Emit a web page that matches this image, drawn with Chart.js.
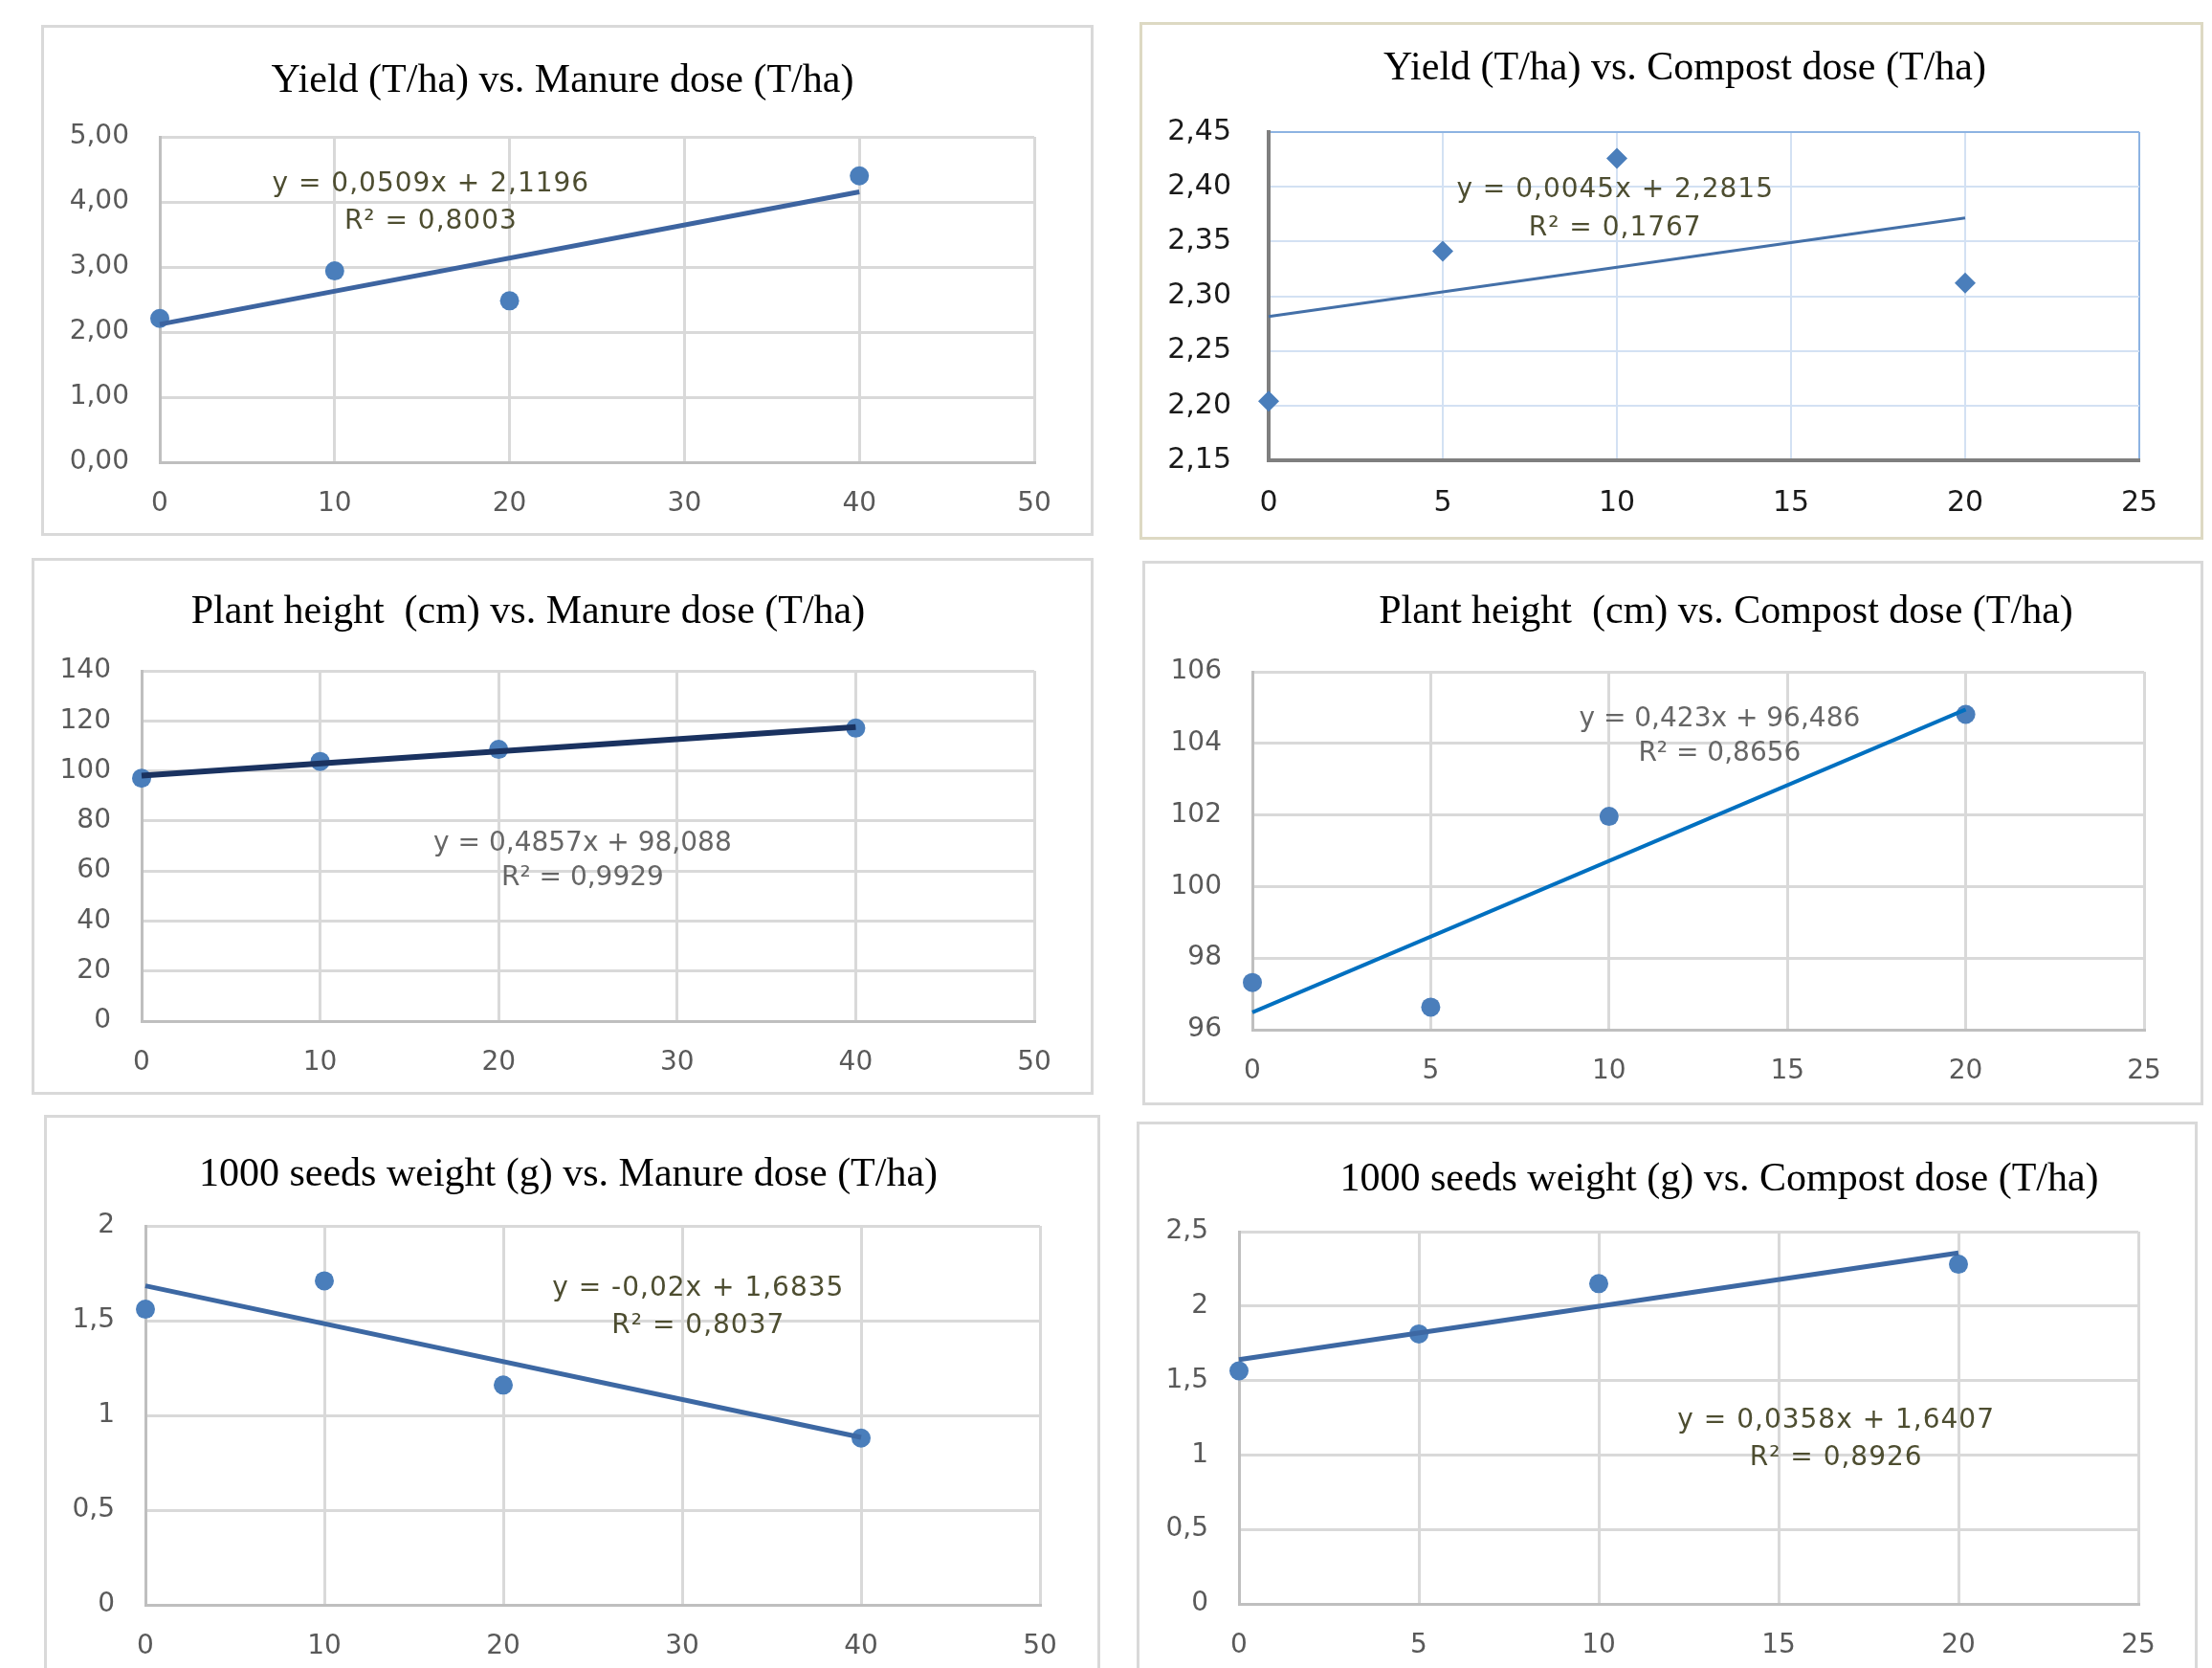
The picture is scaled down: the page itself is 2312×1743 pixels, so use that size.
<!DOCTYPE html>
<html>
<head>
<meta charset="utf-8">
<script src="https://cdn.jsdelivr.net/npm/chart.js@4.4.1/dist/chart.umd.min.js"></script>
<style>
  html, body { margin: 0; padding: 0; background: #fff; }
  body { position: relative; width: 2312px; height: 1743px; overflow: hidden; }
  .panel { position: absolute; }
  .panel .frame { position: absolute; inset: 0; border: 3px solid #d9d9d9; pointer-events: none; }
</style>
</head>
<body>
<div class="panel" id="p1"><canvas></canvas><div class="frame"></div></div>
<div class="panel" id="p2"><canvas></canvas><div class="frame"></div></div>
<div class="panel" id="p3"><canvas></canvas><div class="frame"></div></div>
<div class="panel" id="p4"><canvas></canvas><div class="frame"></div></div>
<div class="panel" id="p5"><canvas></canvas><div class="frame"></div></div>
<div class="panel" id="p6"><canvas></canvas><div class="frame"></div></div>

<script>
// Doses (x values)
const manureDose = [0, 10, 20, 40];
const compostDose = [0, 5, 10, 20];

const yieldManure = [2.21, 2.94, 2.48, 4.40];
const yieldCompost = [2.204, 2.341, 2.426, 2.312];
const heightManure = [97.1, 103.8, 108.6, 117.1];
const heightCompost = [97.32, 96.63, 101.96, 104.81];
const seedsManure = [1.56, 1.71, 1.16, 0.88];
const seedsCompost = [1.565, 1.813, 2.151, 2.281];

// Trendline equations printed on the charts: [slope, intercept, R²]
const trendYieldManure = [0.0509, 2.1196, 0.8003];
const trendYieldCompost = [0.0045, 2.2815, 0.1767];
const trendHeightManure = [0.4857, 98.088, 0.9929];
const trendHeightCompost = [0.423, 96.486, 0.8656];
const trendSeedsManure = [-0.02, 1.6835, 0.8037];
const trendSeedsCompost = [0.0358, 1.6407, 0.8926];

// Axis tick labels
const manureTicks = ['0', '10', '20', '30', '40', '50'];
const compostTicks = ['0', '5', '10', '15', '20', '25'];
const yieldManureTicks = ['0,00', '1,00', '2,00', '3,00', '4,00', '5,00'];
const yieldCompostTicks = ['2,15', '2,20', '2,25', '2,30', '2,35', '2,40', '2,45'];
const heightManureTicks = ['0', '20', '40', '60', '80', '100', '120', '140'];
const heightCompostTicks = ['96', '98', '100', '102', '104', '106'];
const seedsManureTicks = ['0', '0,5', '1', '1,5', '2'];
const seedsCompostTicks = ['0', '0,5', '1', '1,5', '2', '2,5'];

const toNum = s => parseFloat(s.replace(',', '.'));
const comma = v => String(v).replace('.', ',');

// Draws the title and the trendline equation
const panelText = {
    id: 'panelText',
    afterDraw(chart, args, opts) {
        const ctx = chart.ctx;
        ctx.save();
        ctx.fillStyle = '#000';
        ctx.font = '42px "Liberation Serif", "Times New Roman", serif';
        ctx.textAlign = 'center';
        ctx.textBaseline = 'alphabetic';
        ctx.fillText(opts.title, opts.titleAt[0], opts.titleAt[1] + 14);

        const x = chart.scales.x.getPixelForValue(opts.labelAt[0]);
        const y = chart.scales.y.getPixelForValue(opts.labelAt[1]);
        ctx.font = '28px "DejaVu Sans", sans-serif';
        ctx.fillStyle = opts.labelColor;
        ctx.letterSpacing = opts.spacing + 'px';
        const t = opts.trend;
        const sign = t[1] < 0 ? ' - ' : ' + ';
        ctx.fillText('y = ' + comma(t[0]) + 'x' + sign + comma(Math.abs(t[1])), x, y + 10);
        ctx.fillText('R\u00b2 = ' + comma(t[2]), x, y + 10 + opts.lineGap);
        ctx.restore();
    }
};

const panels = [
    {
        id: 'p1', box: [43, 26, 1143, 560], plot: [167, 143, 1081, 483],
        title: 'Yield (T/ha) vs. Manure dose (T/ha)', titleAt: [545, 56],
        xs: manureDose, ys: yieldManure, trend: trendYieldManure,
        xTicks: manureTicks, yTicks: yieldManureTicks,
        marker: 'circle', lineColor: '#3d64a0', lineWidth: 5,
        labelAt: [15.5, 4.31], lineGap: 39, labelColor: '#4d4d30', spacing: 1
    },
    {
        id: 'p2', box: [1191, 23, 2303, 564], plot: [1326, 138, 2236, 481],
        title: 'Yield (T/ha) vs. Compost dose (T/ha)', titleAt: [570, 46],
        xs: compostDose, ys: yieldCompost, trend: trendYieldCompost,
        xTicks: compostTicks, yTicks: yieldCompostTicks,
        marker: 'rectRot', lineColor: '#4470a8', lineWidth: 3,
        labelAt: [9.95, 2.399], lineGap: 40, labelColor: '#4d4d30', spacing: 1,
        frameColor: '#ddd9c3', tickColor: '#1a1a1a', tickSize: 30,
        gridColor: '#d3e1f3', edgeColor: '#8db3e2', axisColor: '#7f7f7f', gridWidth: 2, axisWidth: 4
    },
    {
        id: 'p3', box: [33, 583, 1143, 1144], plot: [148, 701, 1081, 1067],
        title: 'Plant height  (cm) vs. Manure dose (T/ha)', titleAt: [519, 54],
        xs: manureDose, ys: heightManure, trend: trendHeightManure,
        xTicks: manureTicks, yTicks: heightManureTicks,
        marker: 'circle', lineColor: '#1a3260', lineWidth: 6,
        labelAt: [24.7, 71.9], lineGap: 36, labelColor: '#666666', spacing: 0
    },
    {
        id: 'p4', box: [1194, 586, 2303, 1155], plot: [1309, 702, 2241, 1076],
        title: 'Plant height  (cm) vs. Compost dose (T/ha)', titleAt: [610, 51],
        xs: compostDose, ys: heightCompost, trend: trendHeightCompost,
        xTicks: compostTicks, yTicks: heightCompostTicks,
        marker: 'circle', lineColor: '#0070c0', lineWidth: 4,
        labelAt: [13.1, 104.73], lineGap: 36, labelColor: '#666666', spacing: 0
    },
    {
        id: 'p5', box: [46, 1165, 1150, 1760], plot: [152, 1281, 1087, 1677],
        title: '1000 seeds weight (g) vs. Manure dose (T/ha)', titleAt: [548, 60],
        xs: manureDose, ys: seedsManure, trend: trendSeedsManure,
        xTicks: manureTicks, yTicks: seedsManureTicks,
        marker: 'circle', lineColor: '#3d68a3', lineWidth: 5,
        labelAt: [30.9, 1.68], lineGap: 39, labelColor: '#4d4d30', spacing: 1
    },
    {
        id: 'p6', box: [1188, 1172, 2297, 1760], plot: [1295, 1287, 2235, 1676],
        title: '1000 seeds weight (g) vs. Compost dose (T/ha)', titleAt: [609, 58],
        xs: compostDose, ys: seedsCompost, trend: trendSeedsCompost,
        xTicks: compostTicks, yTicks: seedsCompostTicks,
        marker: 'circle', lineColor: '#3d68a3', lineWidth: 5,
        labelAt: [16.6, 1.247], lineGap: 39, labelColor: '#4d4d30', spacing: 1
    }
];

const X_AXIS_H = 60;

function buildPanel(p) {
    const el = document.getElementById(p.id);
    const [bl, bt, br, bb] = p.box;
    const [pl, pt, pr, pb] = p.plot;
    el.style.left = bl + 'px';
    el.style.top = bt + 'px';
    el.style.width = (br - bl) + 'px';
    el.style.height = (bb - bt) + 'px';
    if (p.frameColor) el.querySelector('.frame').style.borderColor = p.frameColor;

    const xVals = p.xTicks.map(toNum);
    const yVals = p.yTicks.map(toNum);
    const xMax = xVals[xVals.length - 1];
    const yMax = yVals[yVals.length - 1];

    const gridColor = p.gridColor || '#d9d9d9';
    const edgeColor = p.edgeColor || gridColor;
    const gridWidth = p.gridWidth || 3;
    const tickFont = { family: 'DejaVu Sans', size: p.tickSize || 28 };
    const tickColor = p.tickColor || '#595959';

    const lastX = p.xs[p.xs.length - 1];
    const trendPts = [0, lastX].map(x => ({ x: x, y: p.trend[0] * x + p.trend[1] }));

    new Chart(el.querySelector('canvas'), {
        type: 'scatter',
        data: {
            datasets: [
                {
                    data: trendPts,
                    showLine: true,
                    borderColor: p.lineColor,
                    borderWidth: p.lineWidth,
                    pointRadius: 0,
                    clip: false
                },
                {
                    data: p.xs.map((x, i) => ({ x: x, y: p.ys[i] })),
                    pointStyle: p.marker,
                    pointRadius: p.marker === 'rectRot' ? 11 : 10,
                    backgroundColor: '#4a7ebb',
                    borderColor: '#4a7ebb',
                    borderWidth: 0,
                    clip: false
                }
            ]
        },
        options: {
            responsive: true,
            maintainAspectRatio: false,
            animation: false,
            layout: {
                padding: { left: 0, top: pt - bt, right: br - pr, bottom: bb - pb - X_AXIS_H }
            },
            plugins: {
                legend: { display: false },
                tooltip: { enabled: false },
                panelText: {
                    title: p.title, titleAt: p.titleAt, trend: p.trend,
                    labelAt: p.labelAt, lineGap: p.lineGap,
                    labelColor: p.labelColor, spacing: p.spacing
                }
            },
            scales: {
                x: {
                    type: 'linear',
                    min: xVals[0],
                    max: xMax,
                    afterBuildTicks: axis => { axis.ticks = xVals.map(v => ({ value: v })); },
                    afterFit: axis => { axis.height = X_AXIS_H; },
                    ticks: {
                        callback: (v, i) => p.xTicks[i],
                        font: tickFont,
                        color: tickColor,
                        padding: 27,
                        maxRotation: 0
                    },
                    grid: {
                        drawTicks: false,
                        lineWidth: gridWidth,
                        color: c => (c.tick && c.tick.value === xMax ? edgeColor : gridColor)
                    },
                    border: { color: p.axisColor || '#bfbfbf', width: p.axisWidth || 3 }
                },
                y: {
                    type: 'linear',
                    min: yVals[0],
                    max: yMax,
                    afterBuildTicks: axis => { axis.ticks = yVals.map(v => ({ value: v })); },
                    afterFit: axis => { axis.width = pl - bl; },
                    ticks: {
                        callback: (v, i) => p.yTicks[i],
                        font: tickFont,
                        color: tickColor,
                        padding: p.id === 'p2' ? 39 : 32
                    },
                    grid: {
                        drawTicks: false,
                        lineWidth: gridWidth,
                        color: c => (c.tick && c.tick.value === yMax ? edgeColor : gridColor)
                    },
                    border: { color: p.axisColor || '#bfbfbf', width: p.axisWidth || 3 }
                }
            }
        },
        plugins: [panelText]
    });
}

panels.forEach(buildPanel);
</script>
</body>
</html>
